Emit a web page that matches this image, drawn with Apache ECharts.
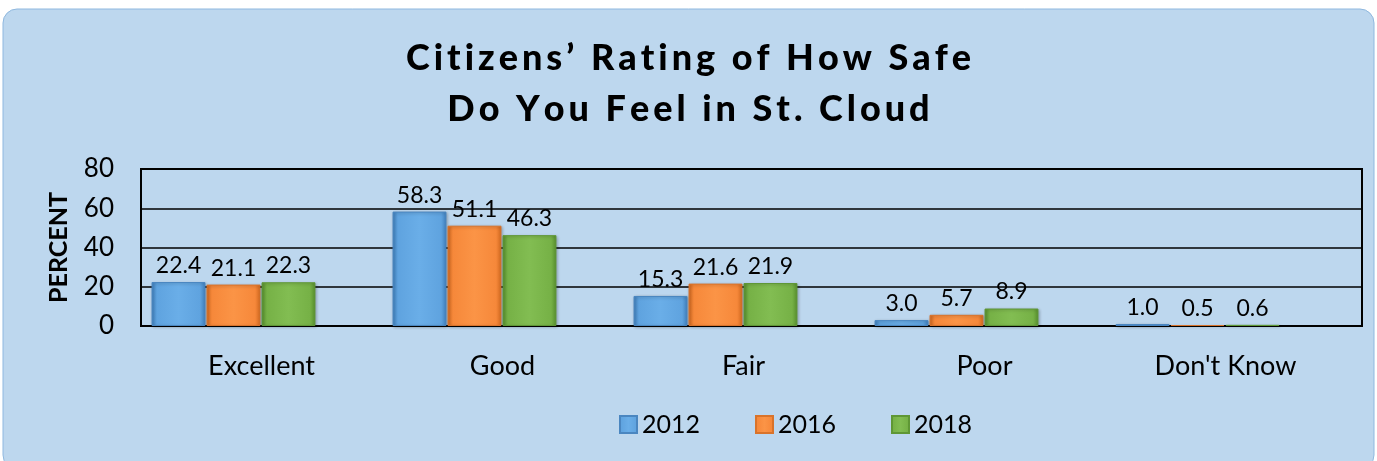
<!DOCTYPE html>
<html>
<head>
<meta charset="utf-8">
<script src="https://cdn.jsdelivr.net/npm/echarts@6/dist/echarts.min.js"></script>
<style>
  html, body { margin: 0; padding: 0; background: #fff; }
  #chart { width: 1377px; height: 461px; }
</style>
</head>
<body>
<div id="chart"></div>
<script>
// data
var categories = ['Excellent', 'Good', 'Fair', 'Poor', "Don't Know"];
var years = ['2012', '2016', '2018'];
var values2012 = [22.4, 58.3, 15.3, 3.0, 1.0];
var values2016 = [21.1, 51.1, 21.6, 5.7, 0.5];
var values2018 = [22.3, 46.3, 21.9, 8.9, 0.6];
var yTicks = [0, 20, 40, 60, 80];
var titleLines = ['Citizens’ Rating of How Safe', 'Do You Feel in St. Cloud'];

var FONT = 'Lato, "Open Sans", sans-serif';

// spread the title letters out a bit (one rich token per char)
function spaced(line) {
    return line.split('').map(function (ch) { return '{s|' + ch + '}'; }).join('');
}

// bevel-ish look: darker edges, lighter middle
function bevel(light, mid, dark) {
    return new echarts.graphic.LinearGradient(0, 0, 1, 0, [
        {offset: 0, color: dark},
        {offset: 0.1, color: mid},
        {offset: 0.5, color: light},
        {offset: 0.9, color: mid},
        {offset: 1, color: dark}
    ]);
}

var palette = [
    {light: '#6aaee8', mid: '#5fa3df', dark: '#3f7fbd', border: '#4a86c0'},
    {light: '#fb9446', mid: '#f6883a', dark: '#d0681f', border: '#d9732a'},
    {light: '#82bd52', mid: '#76b146', dark: '#578f2e', border: '#5f9735'}
];

function makeSeries(name, data, idx) {
    var p = palette[idx];
    return {
        name: name,
        type: 'bar',
        xAxisIndex: 2,
        yAxisIndex: 2,
        data: data,
        barGap: '2%',
        barCategoryGap: '32%',
        itemStyle: {
            color: bevel(p.light, p.mid, p.dark),
            borderColor: p.border,
            borderWidth: 1,
            shadowColor: 'rgba(0,0,0,0.25)',
            shadowBlur: 3,
            shadowOffsetX: 1,
            shadowOffsetY: 1
        },
        label: {
            show: true,
            position: 'top',
            distance: 5,
            color: '#000',
            fontFamily: FONT,
            fontSize: 23,
            formatter: function (p) { return p.value.toFixed(1); }
        }
    };
}

var yMin = yTicks[0], yMax = yTicks[yTicks.length - 1];

var chart = echarts.init(document.getElementById('chart'));
chart.setOption({
    backgroundColor: '#fff',
    animation: false,
    graphic: [{
        type: 'rect',
        z: -10,
        shape: {x: 3, y: 9, width: 1371, height: 460, r: 14},
        style: {fill: '#bdd7ee', stroke: '#8fb8df', lineWidth: 1}
    }],
    title: {
        text: spaced(titleLines[0]) + '\n' + spaced(titleLines[1]),
        left: 'center',
        top: 28,
        textStyle: {
            rich: {
                s: {
                    fontFamily: FONT,
                    fontWeight: 900,
                    fontSize: 36,
                    lineHeight: 51,
                    color: '#000',
                    padding: [0, 2]
                }
            }
        }
    },
    legend: {
        data: years,
        top: 407,
        left: 614,
        itemWidth: 17,
        itemHeight: 17,
        itemGap: 55,
        icon: 'rect',
        textStyle: {fontFamily: FONT, fontSize: 25, color: '#000'}
    },
    grid: [
        // plot box with value axis and gridlines
        {left: 141, right: 15, top: 169, bottom: 135, show: true,
         borderColor: '#000', borderWidth: 2, backgroundColor: 'transparent'},
        // category labels
        {left: 141, right: 31, top: 169, bottom: 135},
        // bars, pushed back like the 3D floor in the original
        {left: 113, right: 59, top: 169, bottom: 135}
    ],
    xAxis: [
        {gridIndex: 0, type: 'category', data: categories,
         axisLine: {lineStyle: {color: '#000', width: 2}},
         axisTick: {show: false}, axisLabel: {show: false}},
        {gridIndex: 1, type: 'category', data: categories,
         axisLine: {show: false}, axisTick: {show: false},
         axisLabel: {color: '#000', fontFamily: FONT, fontSize: 27, margin: 27}},
        {gridIndex: 2, type: 'category', data: categories, show: false}
    ],
    yAxis: [
        {gridIndex: 0, type: 'value', min: yMin, max: yMax, interval: 20,
         name: 'PERCENT', nameLocation: 'middle', nameGap: 70,
         nameTextStyle: {fontFamily: FONT, fontWeight: 'bold', fontSize: 25, color: '#000'},
         axisLine: {show: true, lineStyle: {color: '#000', width: 2}},
         axisTick: {show: false},
         splitLine: {lineStyle: {color: '#000', width: 1.5}},
         axisLabel: {color: '#000', fontFamily: FONT, fontSize: 26, margin: 27}},
        {gridIndex: 1, type: 'value', min: yMin, max: yMax, show: false},
        {gridIndex: 2, type: 'value', min: yMin, max: yMax, show: false}
    ],
    series: [
        makeSeries(years[0], values2012, 0),
        makeSeries(years[1], values2016, 1),
        makeSeries(years[2], values2018, 2)
    ]
});
</script>
</body>
</html>
